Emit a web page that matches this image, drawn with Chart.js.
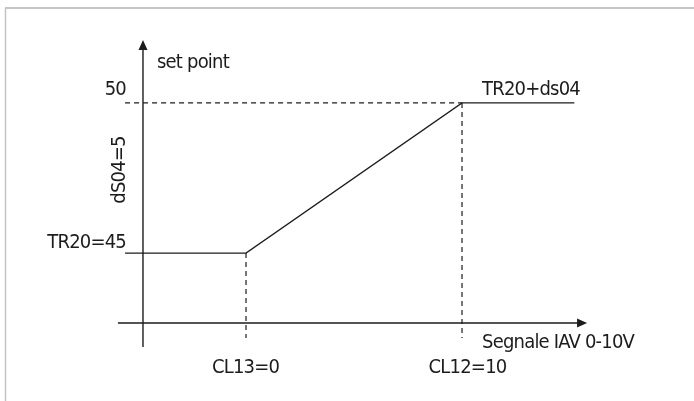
<!DOCTYPE html>
<html>
<head>
<meta charset="utf-8">
<script src="https://cdn.jsdelivr.net/npm/chart.js@4.4.1/dist/chart.umd.min.js"></script>
<style>
  html, body { margin: 0; padding: 0; background: #fff; }
  #wrap { position: relative; width: 694px; height: 401px; }
</style>
</head>
<body>
<div id="wrap"><canvas id="c"></canvas></div>
<script>
// Set point versus IAV 0-10V input signal
const signalStops    = [-5.6, 0, 10, 15.2];   // input signal (V) at the curve's corners
const setPointLevels = [45, 45, 50, 50];      // set point at those corners
const CL13 = 0, CL12 = 10;                    // signal limits
const TR20 = 45, DS04 = 5;                    // base set point and its offset

// Drawing extent of the two axes (data units)
const xView = [-11.39, 20.74];
const yView = [40.07, 53.43];
const yAxisAt = -4.77, xAxisAt = 42.67;
const yAxisSpan = [41.87, 52.1];
const xAxisSpan = [-5.93, 15.79];
const refLineStart = -5.6;
const dropEnd = 42.17;

// Label texts
const yTickLabels = ['50', 'TR20=45'];
const xTickLabels = ['CL13=0', 'CL12=10'];
const yTitle = 'set point';
const xTitle = 'Segnale IAV 0-10V';
const spanLabel = 'dS04=5';
const topLabel = 'TR20+ds04';

const INK = '#1c1c1c';
const FONT = "20px 'DejaVu Sans Condensed', 'DejaVu Sans', sans-serif";

const curve = signalStops.map((x, i) => ({ x, y: setPointLevels[i] }));
const dashed = { borderColor: INK, borderWidth: 1.2, borderDash: [5, 4], pointRadius: 0, showLine: true, fill: false };

const decor = {
  id: 'decor',
  beforeDraw(chart) {
    const ctx = chart.ctx;
    ctx.save();
    // frame
    ctx.strokeStyle = '#c4c4c4';
    ctx.lineWidth = 2;
    ctx.beginPath(); ctx.moveTo(5, 8); ctx.lineTo(694, 8); ctx.stroke();
    ctx.lineWidth = 1.5;
    ctx.beginPath(); ctx.moveTo(5.5, 8); ctx.lineTo(5.5, 401); ctx.stroke();
    ctx.restore();
  },
  afterDatasetsDraw(chart) {
    const ctx = chart.ctx;
    const xs = chart.scales.x, ys = chart.scales.y;
    const px = v => xs.getPixelForValue(v), py = v => ys.getPixelForValue(v);
    ctx.save();
    ctx.strokeStyle = INK; ctx.fillStyle = INK; ctx.lineWidth = 1.4;
    // axes
    const ax = px(yAxisAt), ay = py(xAxisAt);
    const yTop = py(yAxisSpan[1]), xRight = px(xAxisSpan[1]);
    ctx.beginPath();
    ctx.moveTo(ax, py(yAxisSpan[0])); ctx.lineTo(ax, yTop + 8);
    ctx.moveTo(px(xAxisSpan[0]), ay); ctx.lineTo(xRight - 8, ay);
    ctx.stroke();
    // arrowheads
    ctx.beginPath();
    ctx.moveTo(ax, yTop); ctx.lineTo(ax - 4.5, yTop + 10); ctx.lineTo(ax + 4.5, yTop + 10); ctx.closePath();
    ctx.moveTo(xRight, ay); ctx.lineTo(xRight - 10, ay - 4.5); ctx.lineTo(xRight - 10, ay + 4.5); ctx.closePath();
    ctx.fill();

    // labels
    ctx.font = FONT;
    ctx.letterSpacing = '-0.8px';
    ctx.textBaseline = 'alphabetic';
    ctx.textAlign = 'left';
    ctx.fillText(yTitle, ax + 14, yTop + 28);
    ctx.fillText(topLabel, px(CL12) + 20, py(TR20 + DS04) - 8);
    ctx.fillText(xTitle, px(CL12) + 20, ay + 25);
    ctx.textAlign = 'right';
    ctx.fillText(yTickLabels[0], ax - 17, py(TR20 + DS04) - 8);
    ctx.fillText(yTickLabels[1], ax - 17, py(TR20) - 5);
    ctx.textAlign = 'center';
    ctx.fillText(xTickLabels[0], px(CL13) - 0.5, ay + 50);
    ctx.fillText(xTickLabels[1], px(CL12) + 5.5, ay + 50);
    // rotated span label
    ctx.save();
    ctx.translate(ax - 18, (py(TR20) + py(TR20 + DS04)) / 2 - 8);
    ctx.rotate(-Math.PI / 2);
    ctx.fillText(spanLabel, 0, 0);
    ctx.restore();
    ctx.restore();
  }
};

new Chart(document.getElementById('c'), {
  type: 'scatter',
  data: {
    datasets: [
      { data: curve, borderColor: INK, borderWidth: 1.3, pointRadius: 0, showLine: true, fill: false },
      Object.assign({ data: [{ x: refLineStart, y: TR20 + DS04 }, { x: CL12, y: TR20 + DS04 }] }, dashed),
      Object.assign({ data: [{ x: CL13, y: TR20 }, { x: CL13, y: dropEnd }] }, dashed),
      Object.assign({ data: [{ x: CL12, y: TR20 + DS04 }, { x: CL12, y: dropEnd }] }, dashed)
    ]
  },
  options: {
    responsive: true,
    maintainAspectRatio: false,
    animation: false,
    layout: { padding: 0 },
    plugins: { legend: { display: false }, tooltip: { enabled: false } },
    scales: {
      x: { type: 'linear', min: xView[0], max: xView[1], display: false },
      y: { type: 'linear', min: yView[0], max: yView[1], display: false }
    }
  },
  plugins: [decor]
});
</script>
</body>
</html>
